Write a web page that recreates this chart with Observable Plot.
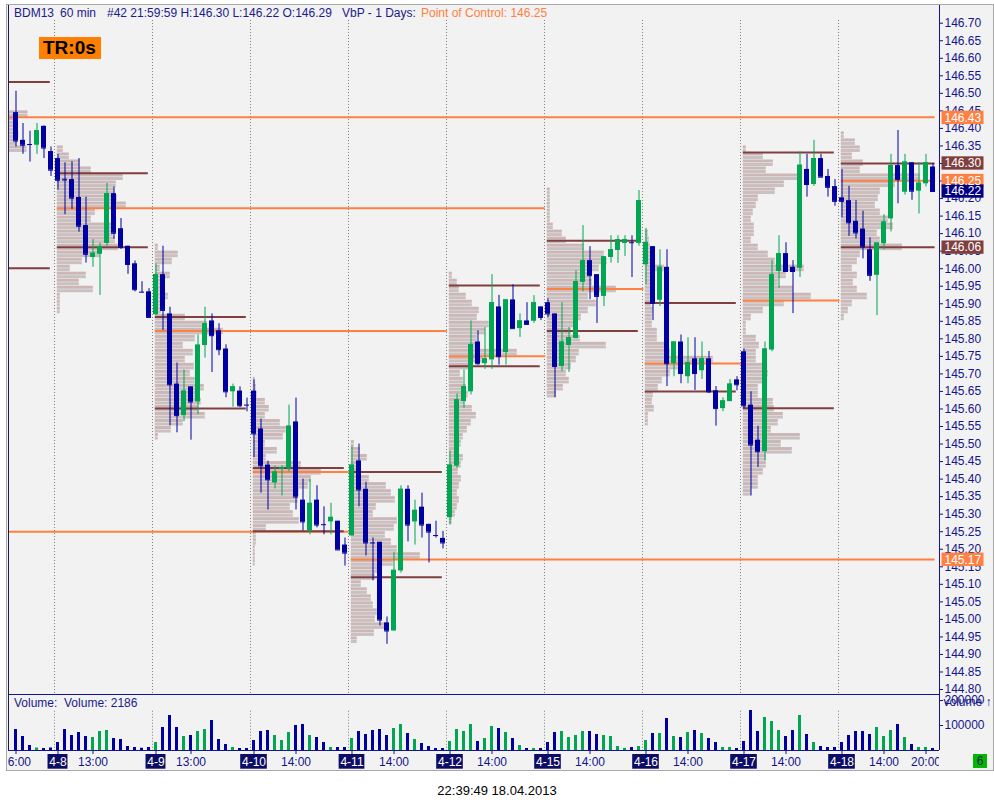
<!DOCTYPE html>
<html>
<head>
<meta charset="utf-8">
<script src="https://cdn.jsdelivr.net/npm/d3@7"></script>
<script src="https://cdn.jsdelivr.net/npm/@observablehq/plot@0.6"></script>
<style>
  body { margin: 0; background: #fff; font-family: "Liberation Sans", Arial, sans-serif; }
  #wrap { position: relative; width: 994px; height: 808px; overflow: hidden; background: #fff; }
  #panel { position: absolute; left: 6px; top: 4px; width: 986px; height: 765px; background: #f2f2f2; border: 1px solid #a8a8a8; }
  .abs { position: absolute; white-space: pre; }
  .t12 { font-size: 12px; line-height: 12px; color: #1a1a8c; }
  #price, #volume, #strip { position: absolute; left: 0; }
  #price { top: 0; } #volume { top: 694px; } #strip { top: 750px; }
</style>
</head>
<body>
<div id="wrap">
  <div id="panel"></div>
  <div id="price"></div>
  <div id="volume"></div>
  <div id="strip"></div>
  <div class="abs t12" style="left:14px;top:7px">BDM13</div>
  <div class="abs t12" style="left:60px;top:7px">60 min</div>
  <div class="abs t12" style="left:107px;top:7px">#42 21:59:59 H:146.30 L:146.22 O:146.29</div>
  <div class="abs t12" style="left:342px;top:7px">VbP - 1 Days:</div>
  <div class="abs t12" style="left:421px;top:7px;color:#ff8040">Point of Control: 146.25</div>
  <div class="abs" style="left:39px;top:37px;width:58px;height:22px;padding-left:4px;background:#ff8000;font-size:19px;line-height:22px;font-weight:bold;color:#000">TR:0s</div>
  <div class="abs t12" style="left:14px;top:697px">Volume:  Volume: 2186</div>
  <div class="abs" style="left:973px;top:754px;width:14px;height:14px;background:#00b800;font-size:12px;line-height:14px;text-align:center;color:#1a1a5a">6</div>
  <div class="abs" style="left:0;width:994px;top:784px;text-align:center;font-size:13px;line-height:13px;color:#000">22:39:49 18.04.2013</div>
</div>
<script>
// hourly bars BDM13, oldest first (first 6 bars belong to the day before 4-8)
const opens = [
  146.445,146.366,146.354,146.352,146.406,146.334,
  146.314,146.255,146.254,146.203,146.123,146.032,146.041,146.072,146.214,146.114,146.064,146.014,145.933,145.934,
  145.869,145.983,145.871,145.671,145.581,145.663,145.62,145.781,145.851,145.823,145.771,145.649,145.651,145.611,
  145.651,145.543,145.44,145.389,145.428,145.429,145.563,145.34,145.252,145.34,145.27,145.278,145.28,145.212,
  145.238,145.452,145.371,145.218,145.22,144.99,144.967,145.138,145.371,145.278,145.32,145.271,145.239,145.231,
  145.29,145.437,145.621,145.649,145.791,145.729,145.74,145.891,145.761,145.911,145.829,145.851,145.85,145.891,
  145.903,145.871,145.721,145.781,145.801,145.961,146.023,145.983,145.921,146.032,146.052,146.072,146.074,146.072,
  146.011,146.063,145.91,146.004,145.729,145.791,145.692,145.743,145.709,145.743,145.652,145.601,145.621,145.683,
  145.763,145.611,145.511,145.478,145.768,145.992,146.043,146.004,146.001,146.283,146.24,146.314,146.263,146.234,
  146.202,146.194,146.135,146.113,146.054,145.981,146.071,146.142,146.294,146.218,146.302,146.221,146.242,146.29
];
const highs = [
  146.506,146.414,146.392,146.414,146.407,146.347,
  146.326,146.302,146.305,146.314,146.204,146.083,146.073,146.243,146.233,146.143,146.064,146.022,145.963,145.943,
  146.014,146.064,145.89,145.731,145.711,145.663,145.811,145.89,145.871,145.843,145.783,145.671,145.663,145.631,
  145.683,145.571,145.451,145.437,145.438,145.611,145.631,145.40,145.40,145.381,145.321,145.331,145.28,145.232,
  145.494,145.50,145.391,145.232,145.22,145.007,145.191,145.381,145.381,145.34,145.36,145.271,145.28,145.251,
  145.48,145.643,145.711,145.851,145.823,145.832,145.983,145.924,145.911,145.954,145.871,145.903,145.923,145.891,
  145.914,145.871,145.903,145.832,145.994,146.123,146.063,145.983,146.034,146.094,146.094,146.094,146.094,146.223,
  146.115,146.063,146.054,146.054,145.791,145.811,145.803,145.803,145.791,145.764,145.664,145.632,145.684,145.692,
  145.771,145.649,145.551,145.791,146.023,146.094,146.074,146.023,146.333,146.326,146.366,146.326,146.283,146.254,
  146.283,146.235,146.194,146.164,146.088,146.073,146.154,146.326,146.394,146.326,146.302,146.302,146.326,146.30
];
const lows = [
  146.347,146.326,146.304,146.326,146.314,146.263,
  146.224,146.154,146.169,146.104,146.016,146.004,145.924,146.064,146.084,146.055,145.984,145.934,145.931,145.861,
  145.866,145.824,145.552,145.532,145.564,145.511,145.584,145.745,145.704,145.752,145.632,145.605,145.604,145.592,
  145.461,145.36,145.312,145.372,145.352,145.421,145.312,145.252,145.241,145.261,145.241,145.241,145.198,145.152,
  145.238,145.321,145.181,145.11,144.981,144.929,144.967,145.132,145.221,145.212,145.232,145.161,145.232,145.201,
  145.269,145.43,145.602,145.64,145.725,145.713,145.713,145.725,145.725,145.829,145.804,145.841,145.844,145.852,
  145.86,145.632,145.707,145.704,145.80,145.934,145.912,145.844,145.892,146.016,146.015,146.035,145.975,146.064,
  145.954,145.852,145.892,145.664,145.692,145.672,145.672,145.653,145.684,145.644,145.551,145.592,145.621,145.652,
  145.60,145.352,145.433,145.452,145.763,145.944,145.992,145.872,145.975,146.204,146.235,146.26,146.204,146.178,
  146.145,146.092,146.085,146.028,145.964,145.866,146.054,146.105,146.185,146.21,146.195,146.156,146.233,146.22
];
const closes = [
  146.364,146.352,146.354,146.394,146.344,146.281,
  146.252,146.253,146.201,146.121,146.041,146.044,146.063,146.214,146.101,146.061,146.012,145.94,145.933,145.861,
  145.983,145.881,145.669,145.581,145.651,145.62,145.782,145.843,145.809,145.769,145.649,145.663,145.609,145.611,
  145.529,145.438,145.398,145.42,145.432,145.551,145.349,145.278,145.331,145.269,145.27,145.291,145.198,145.189,
  145.44,145.369,145.218,145.218,144.998,144.967,145.14,145.371,145.269,145.311,145.269,145.249,145.239,145.218,
  145.44,145.626,145.664,145.784,145.729,145.743,145.903,145.749,145.911,145.829,145.851,145.841,145.903,145.861,
  145.871,145.721,145.791,145.803,145.963,146.023,145.98,145.921,146.034,146.054,146.083,146.083,146.074,146.194,
  146.075,145.901,146.004,145.729,145.791,145.701,145.732,145.701,145.743,145.649,145.601,145.623,145.671,145.669,
  145.609,145.497,145.478,145.771,145.983,146.043,145.992,145.992,146.295,146.24,146.314,146.261,146.232,146.192,
  146.192,146.131,146.102,146.062,145.981,146.073,146.133,146.294,146.254,146.304,146.221,146.244,146.302,146.22
];
const volumes = [
  84000,56000,20000,10000,8000,10000,
  32000,84000,60000,72000,56000,52000,76000,80000,48000,44000,16000,12000,9000,12000,
  32000,92000,140000,92000,56000,60000,76000,84000,120000,44000,24000,12000,8000,8000,
  40000,76000,80000,60000,40000,72000,100000,104000,60000,52000,32000,12000,12000,12000,
  48000,76000,64000,80000,84000,60000,88000,104000,68000,44000,28000,16000,8000,8000,
  36000,84000,76000,104000,36000,48000,96000,88000,72000,48000,20000,8000,8000,8000,
  32000,72000,76000,52000,60000,76000,76000,64000,60000,56000,16000,8000,12000,16000,
  40000,68000,68000,128000,56000,52000,72000,80000,68000,48000,32000,12000,12000,8000,
  36000,160000,76000,132000,116000,80000,56000,80000,140000,64000,32000,16000,12000,12000,
  32000,60000,76000,76000,64000,92000,56000,80000,104000,52000,24000,12000,12000,8000
];

const dayNames = ["4-8", "4-9", "4-10", "4-11", "4-12", "4-15", "4-16", "4-17", "4-18"];
const dayFirstBar = [6, 20, 34, 48, 62, 76, 90, 104, 118];
const hourLabels = ["16:00", "13:00", "13:00", "14:00", "14:00", "14:00", "14:00", "14:00", "14:00", "14:00", "20:00"];
const hourLabelBars = [0, 11, 25, 40, 54, 68, 82, 96, 110, 124, 130];

const priceTicks = [
  144.80, 144.85, 144.90, 144.95, 145.00, 145.05, 145.10, 145.15, 145.20, 145.25,
  145.30, 145.35, 145.40, 145.45, 145.50, 145.55, 145.60, 145.65, 145.70, 145.75,
  145.80, 145.85, 145.90, 145.95, 146.00, 146.05, 146.10, 146.15, 146.20, 146.25,
  146.30, 146.35, 146.40, 146.45, 146.50, 146.55, 146.60, 146.65, 146.70
];
const volumeTicks = [100000, 200000];

// point of control per day: price, first bar, last bar
const pocPrice = [145.25, 146.432, 146.172, 145.822, 145.42, 145.171, 145.75, 145.942, 145.73, 145.909, 146.251];
const pocFrom = [-1.0, -1.0, 5.9, 19.9, 33.9, 47.9, 61.9, 75.9, 89.9, 103.9, 117.9];
const pocTo = [47.6, 131.3, 75.6, 61.6, 47.6, 131.3, 75.7, 89.7, 103.7, 117.7, 131.3];

// value area high / low per day
const vaPrice = [146.532, 146.001, 146.272, 146.061, 145.862, 145.601, 145.432, 145.251, 145.42, 145.12,
  145.952, 145.722, 146.08, 145.822, 145.902, 145.65, 146.331, 145.602, 146.30, 146.061];
const vaFrom = [-1.0, -1.0, 5.9, 5.9, 19.9, 19.9, 33.9, 33.9, 47.9, 47.9,
  61.9, 61.9, 75.9, 75.9, 89.9, 89.9, 103.9, 103.9, 117.9, 117.9];
const vaTo = [4.9, 4.9, 18.9, 18.9, 32.9, 32.9, 46.9, 46.9, 60.9, 60.9,
  74.9, 74.9, 88.9, 88.9, 102.9, 102.9, 116.9, 116.9, 131.3, 131.3];

// volume by price, one value per 0.02 step from the day's lowest level
const vbpPre = [18, 8, 10, 8, 9, 19];
const vbp0408 = [3,3,3,36,22,29,13,25,43,61,58,56,56,34,38,69,60,57,59,66,34,23,12,6];
const vbp0409 = [3,16,28,50,43,46,45,49,40,35,39,30,38,28,40,68,52,30,6,6,13,7,7,15,5,17,23,3];
const vbp0410 = [2,2,2,3,3,13,46,40,37,45,46,55,58,68,48,13,24,12,30,33,27,12,16,12,4,3,2];
const vbp0411 = [6,23,34,24,26,22,20,16,10,24,30,42,69,46,40,34,43,46,22,25,44,40,35,18,6,10,16,9,3];
const vbp0412 = [3,6,8,10,8,10,12,9,12,14,10,12,14,18,22,27,23,15,19,17,14,11,24,34,68,31,28,36,40,28,30,23,17,10,8,3];
const vbp0415 = [9,16,22,19,24,29,32,59,33,24,29,34,41,49,41,69,45,42,52,60,57,37,19,15,6,3,3,3,3,3];
const vbp0416 = [3,3,9,7,8,13,17,25,33,68,25,20,12,12,7,7,8,6,8,6,6,8,19,7,6,5,4,3];
const vbp0417 = [8,15,15,20,23,23,49,38,57,28,35,40,31,30,15,15,20,25,22,13,13,16,13,3,3,8,20,41,68,50,35,43,61,32,25,15,8,11,11,8,10,13,15,32,41,55,23,30,20,3];
const vbp0418 = [3,7,11,26,16,12,16,11,16,19,61,39,36,52,47,39,34,37,39,54,79,19,22,11,19,14,3];
const vbpLow = [146.34, 145.88, 145.52, 145.16, 144.94, 145.28, 145.64, 145.56, 145.36, 145.86];
const vbpStartBar = [-1.0, 5.9, 19.9, 33.9, 47.9, 61.9, 75.9, 89.9, 103.9, 117.9];

// labels on the price scale
const markerPrices = [146.43, 146.30, 146.25, 146.22, 146.06, 145.17];
const markerKinds = ["poc", "va", "poc", "last", "va", "poc"];

const navy = "#14148c";
const blue = "#0000a2";
const green = "#00a651";
const orange = "#ff8040";
const brown = "#7f3f3f";
const font = "Liberation Sans, Arial, sans-serif";

const bar = (px) => (px - 15.5) / 7; // pixel column -> bar number
const xDomain = [bar(8), bar(939)];
const yDomain = [144.78583, 146.75047];

const bars = opens.map((o, i) => ({
  i, open: o, high: highs[i], low: lows[i], close: closes[i], volume: volumes[i], up: closes[i] > o
}));
const ups = bars.filter((d) => d.up);
const downs = bars.filter((d) => !d.up);

const pocs = pocPrice.map((p, k) => ({ price: p, from: pocFrom[k], to: pocTo[k] }));
const vas = vaPrice.map((p, k) => ({ price: p, from: vaFrom[k], to: vaTo[k] }));
const markers = markerPrices.map((p, k) => ({
  price: p, fill: { poc: orange, va: brown, last: "#000080" }[markerKinds[k]]
}));

const vbpRows = [];
[vbpPre, vbp0408, vbp0409, vbp0410, vbp0411, vbp0412, vbp0415, vbp0416, vbp0417, vbp0418].forEach((vols, d) => {
  vols.forEach((v, k) => {
    const p = vbpLow[d] + 0.02 * k;
    const x1 = vbpStartBar[d], x2 = vbpStartBar[d] + v / 7;
    vbpRows.push({ x1, x2, y1: p - 0.01, y2: p, fill: "#c9c1c1" });
    vbpRows.push({ x1, x2, y1: p, y2: p + 0.01, fill: "#ccb6b6" });
  });
});

const style = { background: "transparent", fontFamily: font, fontSize: "12px", color: navy, overflow: "visible" };

const price = Plot.plot({
  width: 994, height: 695,
  marginTop: 5, marginBottom: 1, marginLeft: 8, marginRight: 55,
  x: { domain: xDomain, axis: null },
  y: { domain: yDomain, axis: null },
  style,
  marks: [
    Plot.rect(vbpRows, { x1: "x1", x2: "x2", y1: "y1", y2: "y2", fill: "fill", insetBottom: 0.5 }),
    Plot.ruleX(dayFirstBar, { x: (d) => d - 0.5, y1: 146.7077, y2: yDomain[0], stroke: "#808080", strokeDasharray: "1,2" }),
    Plot.ruleY(pocs, { y: "price", x1: "from", x2: "to", stroke: orange, strokeWidth: 2 }),
    Plot.ruleY(vas, { y: "price", x1: "from", x2: "to", stroke: brown, strokeWidth: 2 }),
    Plot.ruleX(downs, { x: "i", y1: "low", y2: "high", stroke: blue }),
    Plot.ruleX(ups, { x: "i", y1: "low", y2: "high", stroke: green }),
    Plot.ruleY(downs, { y: "close", x1: (d) => d.i - 2.5 / 7, x2: (d) => d.i + 2.5 / 7, stroke: blue }),
    Plot.ruleY(ups, { y: "close", x1: (d) => d.i - 2.5 / 7, x2: (d) => d.i + 2.5 / 7, stroke: green }),
    Plot.rect(downs, { x1: (d) => d.i - 2.5 / 7, x2: (d) => d.i + 2.5 / 7, y1: "open", y2: "close", fill: blue }),
    Plot.rect(ups, { x1: (d) => d.i - 2.5 / 7, x2: (d) => d.i + 2.5 / 7, y1: "open", y2: "close", fill: green }),
    Plot.ruleX([xDomain[0]], { stroke: "#1a1a50" }),
    Plot.ruleX([xDomain[1]], { stroke: navy }),
    Plot.ruleY([yDomain[0]], { stroke: navy }),
    Plot.axisY({ ticks: priceTicks, anchor: "right", tickSize: 3, tickPadding: 2, tickFormat: (d) => d.toFixed(2), color: navy }),
    Plot.rect(markers, { x1: bar(941.5), x2: bar(983.5), y1: (d) => d.price - 0.019, y2: (d) => d.price + 0.019, fill: "fill" }),
    Plot.text(markers, { x: bar(944), y: "price", text: (d) => d.price.toFixed(2), textAnchor: "start", fill: "white" })
  ]
});
document.getElementById("price").append(price);

const volume = Plot.plot({
  width: 994, height: 57,
  marginTop: 0, marginBottom: 1, marginLeft: 8, marginRight: 55,
  x: { domain: xDomain, axis: null },
  y: { domain: [0, 224000], axis: null },
  style,
  marks: [
    Plot.ruleX(dayFirstBar, { x: (d) => d - 0.5, y1: 157000, y2: 0, stroke: "#808080", strokeDasharray: "1,2" }),
    Plot.rect(downs, { x1: (d) => d.i - 1.5 / 7, x2: (d) => d.i + 1.5 / 7, y1: 0, y2: "volume", fill: blue }),
    Plot.rect(ups, { x1: (d) => d.i - 1.5 / 7, x2: (d) => d.i + 1.5 / 7, y1: 0, y2: "volume", fill: green }),
    Plot.ruleY([0], { stroke: navy }),
    Plot.ruleX([xDomain[0]], { stroke: "#1a1a50" }),
    Plot.ruleX([xDomain[1]], { stroke: navy }),
    Plot.axisY({ ticks: volumeTicks, anchor: "right", tickSize: 3, tickPadding: 2, tickFormat: (d) => String(d), color: navy })
  ]
});
document.getElementById("volume").append(volume);

const ctx = document.createElement("canvas").getContext("2d");
ctx.font = "12px " + font;
const dayLabels = dayNames.map((name, k) => {
  const half = (ctx.measureText(name).width / 2 + 1.3) / 7;
  return { name, i: dayFirstBar[k], x1: dayFirstBar[k] - half, x2: dayFirstBar[k] + half };
});
const hours = hourLabels.map((t, k) => ({ t, i: hourLabelBars[k] }));

const strip = Plot.plot({
  width: 994, height: 21,
  marginTop: 0, marginBottom: 0, marginLeft: 8, marginRight: 55,
  x: { domain: xDomain, axis: null },
  y: { domain: [0, 21], range: [0, 21], axis: null },
  style,
  marks: [
    Plot.ruleX([...dayFirstBar, ...hourLabelBars], { x: (d) => d, y1: 0, y2: 4, stroke: navy }),
    Plot.rect(dayLabels, { x1: "x1", x2: "x2", y1: 4, y2: 18.7, fill: "#0c0c64" }),
    Plot.text(dayLabels, { x: "i", y: 11.6, text: "name", fill: "white" }),
    Plot.text(hours, { x: "i", y: 11.6, text: "t", fill: navy, clip: true })
  ]
});
document.getElementById("strip").append(strip);
</script>
</body>
</html>
